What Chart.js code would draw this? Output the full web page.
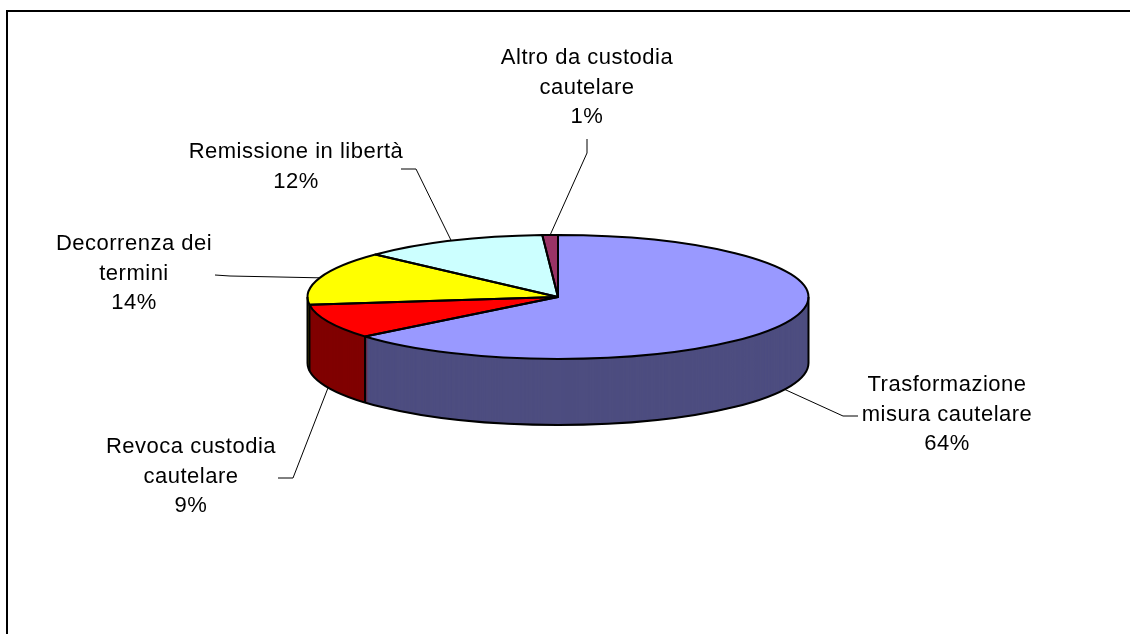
<!DOCTYPE html>
<html>
<head>
<meta charset="utf-8">
<title>Uscite dalla custodia cautelare</title>
<script src="https://cdn.jsdelivr.net/npm/chart.js@4.4.1/dist/chart.umd.min.js"></script>
<style>
  html, body { margin: 0; padding: 0; background: #fff; }
  #wrap { position: relative; width: 1130px; height: 634px; }
</style>
</head>
<body>
<div id="wrap"><canvas id="pieChart" width="1130" height="634"></canvas></div>
<script>
// Data (slices clockwise from 12 o'clock)
const categoryLines = [
  ["Trasformazione", "misura cautelare"],
  ["Revoca custodia", "cautelare"],
  ["Decorrenza dei", "termini"],
  ["Remissione in libertà"],
  ["Altro da custodia", "cautelare"]
];
const categories = categoryLines.map(l => l.join(" "));
const percentages = [64, 9, 14, 12, 1];

// Colours: top face and darker side
const topColors = ["#9999FF", "#FF0000", "#FFFF00", "#CCFFFF", "#993366"];
const sideColors = ["#4D4D80", "#800000", "#808000", "#668080", "#4D1A33"];

// Layout
const RY = 62;        // vertical radius of the squashed pie
const DEPTH = 66;     // thickness of the pie side
const FONT = "22px 'Liberation Sans', Arial, sans-serif";
const LINE_H = 29.7;
// label centre x, middle of first line y
const labelAnchors = [[947, 385], [191, 447], [134, 244], [296, 152], [587, 58]];
// leader line points after the pie edge
const leaderPoints = [
  [[843, 416], [858, 416]],
  [[293, 478], [278, 478]],
  [[230, 276], [215, 275]],
  [[416, 169], [401, 169]],
  [[587, 153], [587, 139]]
];

// 3D look: squash the library's arcs and stack darker copies for the side
const pie3d = {
  id: "pie3d",
  beforeDatasetsDraw(chart) {
    const ctx = chart.ctx;
    const arcs = chart.getDatasetMeta(0).data;
    const { x, y, outerRadius } = arcs[0];
    const k = RY / outerRadius;
    ctx.save();
    ctx.translate(x, y);
    ctx.scale(1, k);
    ctx.translate(-x, -y);
    for (let d = DEPTH; d >= 1; d--) {
      ctx.save();
      ctx.translate(0, d / k);
      arcs.forEach((arc, i) => {
        const opts = arc.options;
        arc.options = Object.assign({}, opts, {
          backgroundColor: sideColors[i],
          borderColor: sideColors[i]
        });
        arc.draw(ctx);
        arc.options = opts;
      });
      ctx.restore();
    }
  },
  afterDatasetsDraw(chart) {
    const ctx = chart.ctx;
    ctx.restore();

    const arcs = chart.getDatasetMeta(0).data;
    const { x, y, outerRadius: r } = arcs[0];
    ctx.save();
    ctx.lineWidth = 2;
    ctx.strokeStyle = "#000";
    ctx.lineJoin = "round";

    // bottom rim of the side
    ctx.beginPath();
    ctx.ellipse(x, y + DEPTH, r, RY, 0, 0, Math.PI);
    ctx.stroke();

    // vertical edges: silhouette and slice boundaries on the front
    const verticals = [0, Math.PI];
    arcs.forEach(a => {
      if (Math.sin(a.startAngle) > 0.01) verticals.push(a.startAngle);
    });
    verticals.forEach(ang => {
      const px = x + r * Math.cos(ang), py = y + RY * Math.sin(ang);
      ctx.beginPath();
      ctx.moveTo(px, py);
      ctx.lineTo(px, py + DEPTH);
      ctx.stroke();
    });

    // top face outlines
    arcs.forEach(a => {
      ctx.beginPath();
      ctx.moveTo(x, y);
      ctx.ellipse(x, y, r, RY, 0, a.startAngle, a.endAngle);
      ctx.closePath();
      ctx.stroke();
    });
    ctx.restore();
  },
  afterDraw(chart) {
    const ctx = chart.ctx;
    const arcs = chart.getDatasetMeta(0).data;
    const { x, y, outerRadius: r } = arcs[0];

    // frame
    ctx.save();
    ctx.strokeStyle = "#000";
    ctx.lineWidth = 2;
    ctx.beginPath();
    ctx.moveTo(7, 634);
    ctx.lineTo(7, 11);
    ctx.lineTo(1130, 11);
    ctx.stroke();
    ctx.restore();

    // leader lines
    ctx.save();
    ctx.strokeStyle = "#000";
    ctx.lineWidth = 1;
    arcs.forEach((a, i) => {
      const mid = (a.startAngle + a.endAngle) / 2;
      const px = x + r * Math.cos(mid);
      const py = y + RY * Math.sin(mid) + (Math.sin(mid) > 0 ? DEPTH : 0);
      ctx.beginPath();
      ctx.moveTo(px, py);
      leaderPoints[i].forEach(p => ctx.lineTo(p[0], p[1]));
      ctx.stroke();
    });
    ctx.restore();

    // labels
    ctx.save();
    ctx.font = FONT;
    ctx.fillStyle = "#000";
    ctx.textAlign = "center";
    ctx.textBaseline = "middle";
    if ("letterSpacing" in ctx) ctx.letterSpacing = "0.5px";
    categoryLines.forEach((lines, i) => {
      const rows = lines.concat([percentages[i] + "%"]);
      const [lx, ly] = labelAnchors[i];
      rows.forEach((t, j) => ctx.fillText(t, lx, ly + j * LINE_H));
    });
    ctx.restore();
  }
};

new Chart(document.getElementById("pieChart"), {
  type: "pie",
  data: {
    labels: categories,
    datasets: [{
      data: percentages,
      backgroundColor: topColors,
      borderColor: topColors,
      borderWidth: 1,
      clip: false
    }]
  },
  options: {
    responsive: false,
    animation: false,
    events: [],
    layout: { padding: { left: 307, right: 321, top: 46, bottom: 86 } },
    plugins: {
      legend: { display: false },
      tooltip: { enabled: false }
    }
  },
  plugins: [pie3d]
});
</script>
</body>
</html>
